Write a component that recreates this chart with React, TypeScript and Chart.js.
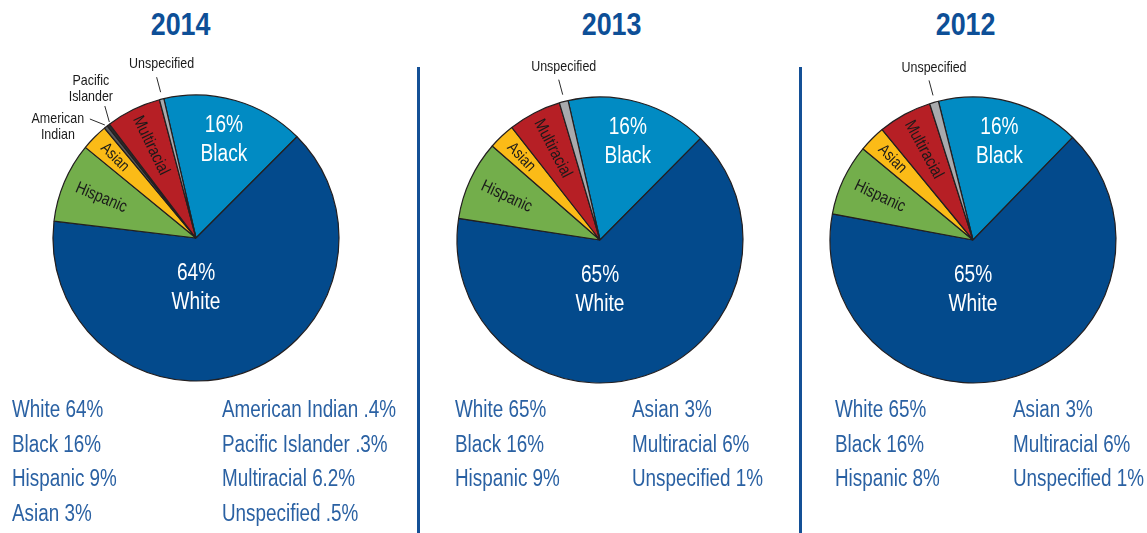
import React, { useEffect, useRef } from "react";
import { Chart, registerables } from "chart.js";

Chart.register(...registerables);

// ---------- data ----------
const years = ["2014", "2013", "2012"];

const categories2014 = ["Black", "White", "Hispanic", "Asian", "American Indian", "Pacific Islander", "Multiracial", "Unspecified"];
const values2014 = [16, 64, 9, 3, 0.4, 0.3, 6.2, 0.5];

const categories2013 = ["Black", "White", "Hispanic", "Asian", "Multiracial", "Unspecified"];
const values2013 = [16, 65, 9, 3, 6, 1];

const categories2012 = ["Black", "White", "Hispanic", "Asian", "Multiracial", "Unspecified"];
const values2012 = [16, 65, 8, 3, 6, 1];

const legend2014Left = ["White 64%", "Black 16%", "Hispanic 9%", "Asian 3%"];
const legend2014Right = ["American Indian .4%", "Pacific Islander .3%", "Multiracial 6.2%", "Unspecified .5%"];
const legend2013Left = ["White 65%", "Black 16%", "Hispanic 9%"];
const legend2013Right = ["Asian 3%", "Multiracial 6%", "Unspecified 1%"];
const legend2012Left = ["White 65%", "Black 16%", "Hispanic 8%"];
const legend2012Right = ["Asian 3%", "Multiracial 6%", "Unspecified 1%"];

// ---------- styles ----------
const FONT = '"Liberation Sans", Arimo, Arial, sans-serif';
const SQUEEZE = 0.83;
const TITLE_COLOR = "#0d4f97";
const LEGEND_COLOR = "#2a61a3";
const DIVIDER_COLOR = "#145096";

const sliceColors: Record<string, string> = {
  Black: "#018bc3",
  White: "#034a8c",
  Hispanic: "#73ae4b",
  Asian: "#fbbb17",
  "American Indian": "#58595b",
  "Pacific Islander": "#2b2b2b",
  Multiracial: "#b61f25",
  Unspecified: "#a8aaad",
};

type LabelStyle = {
  kind: "inside" | "rotated" | "outside";
  lines?: string[];
  color?: string;
  size?: number;
  frac?: number;
  angleFromTop?: number;
  line1?: [number, number];
  line2?: [number, number];
  text?: [number, number];
};

const labelStyles: Record<string, LabelStyle> = {
  Black: { kind: "inside", color: "#ffffff", size: 23, frac: 0.71 },
  White: { kind: "inside", color: "#ffffff", size: 23, frac: 0.35, angleFromTop: 180 },
  Hispanic: { kind: "rotated", color: "#1a1a1a", size: 17, frac: 0.72 },
  Asian: { kind: "rotated", color: "#1a1a1a", size: 16, frac: 0.8 },
  Multiracial: { kind: "rotated", color: "#1a1a1a", size: 17, frac: 0.72 },
  Unspecified: { kind: "outside", lines: ["Unspecified"], line1: [-1, -7], line2: [-5, -22], text: [0, -35] },
  "Pacific Islander": { kind: "outside", lines: ["Pacific", "Islander"], line1: [1, -3], line2: [-3.5, -19], text: [-17.5, -36] },
  "American Indian": { kind: "outside", lines: ["American", "Indian"], line1: [-1, -2], line2: [-16, -8], text: [-48, 0] },
};

function squeezedText(ctx: CanvasRenderingContext2D, text: string, x: number, y: number) {
  ctx.save();
  ctx.translate(x, y);
  ctx.scale(SQUEEZE, 1);
  ctx.fillText(text, 0, 0);
  ctx.restore();
}

const sliceLabelPlugin = {
  id: "sliceLabels",
  afterDatasetsDraw(chart: any) {
    const ctx: CanvasRenderingContext2D = chart.ctx;
    const meta = chart.getDatasetMeta(0);
    const labels: string[] = chart.data.labels;
    const values: number[] = chart.data.datasets[0].data;
    meta.data.forEach((arc: any, i: number) => {
      const p = arc.getProps(["x", "y", "startAngle", "endAngle", "outerRadius"], true);
      const mid = (p.startAngle + p.endAngle) / 2;
      const name = labels[i];
      const st = labelStyles[name];
      if (!st) return;
      ctx.save();
      ctx.textAlign = "center";
      ctx.textBaseline = "middle";
      if (st.kind === "inside") {
        const ang = st.angleFromTop !== undefined ? (st.angleFromTop - 90) * Math.PI / 180 : mid;
        const r = p.outerRadius * (st.frac || 0.7);
        const cx = p.x + Math.cos(ang) * r;
        const cy = p.y + Math.sin(ang) * r;
        ctx.fillStyle = st.color || "#fff";
        ctx.font = `${st.size}px ${FONT}`;
        const lh = 29;
        squeezedText(ctx, `${values[i]}%`, cx, cy - lh / 2);
        squeezedText(ctx, name, cx, cy + lh / 2);
      } else if (st.kind === "rotated") {
        const r = p.outerRadius * (st.frac || 0.7);
        const cx = p.x + Math.cos(mid) * r;
        const cy = p.y + Math.sin(mid) * r;
        ctx.translate(cx, cy);
        ctx.rotate(mid + Math.PI);
        ctx.fillStyle = st.color || "#111";
        ctx.font = `${st.size}px ${FONT}`;
        squeezedText(ctx, name, 0, 0);
      } else {
        const ex = p.x + Math.cos(mid) * p.outerRadius;
        const ey = p.y + Math.sin(mid) * p.outerRadius;
        const l1 = st.line1 || [0, 0];
        const l2 = st.line2 || [0, 0];
        const t = st.text || [0, 0];
        ctx.strokeStyle = "#2b2b2b";
        ctx.lineWidth = 1;
        ctx.beginPath();
        ctx.moveTo(ex + l1[0], ey + l1[1]);
        ctx.lineTo(ex + l2[0], ey + l2[1]);
        ctx.stroke();
        ctx.fillStyle = "#1a1a1a";
        ctx.font = `15px ${FONT}`;
        const lines = st.lines || [name];
        const lh = 16;
        lines.forEach((ln, k) => {
          squeezedText(ctx, ln, ex + t[0], ey + t[1] + (k - (lines.length - 1) / 2) * lh);
        });
      }
      ctx.restore();
    });
  },
};

type PieProps = {
  categories: string[];
  values: number[];
  rotation: number;
  left: number;
  top: number;
  width: number;
  height: number;
};

function Pie({ categories, values, rotation, left, top, width, height }: PieProps) {
  const ref = useRef<HTMLCanvasElement | null>(null);
  useEffect(() => {
    if (!ref.current) return;
    const chart = new Chart(ref.current, {
      type: "pie",
      data: {
        labels: categories,
        datasets: [
          {
            data: values,
            backgroundColor: categories.map((c) => sliceColors[c]),
            borderColor: "#231f20",
            borderWidth: 1.2,
          },
        ],
      },
      options: {
        responsive: false,
        animation: false,
        rotation,
        radius: 143,
        layout: { padding: 0 },
        plugins: { legend: { display: false }, tooltip: { enabled: false }, title: { display: false } },
      } as any,
      plugins: [sliceLabelPlugin],
    });
    return () => chart.destroy();
  }, []);
  return (
    <canvas
      ref={ref}
      width={width}
      height={height}
      style={{ position: "absolute", left, top, width, height }}
    />
  );
}

function Title({ text, cx }: { text: string; cx: number }) {
  return (
    <div
      style={{
        position: "absolute",
        left: cx - 60,
        width: 120,
        top: 4,
        height: 40,
        lineHeight: "40px",
        textAlign: "center",
        fontFamily: FONT,
        fontWeight: "bold",
        fontSize: 32,
        color: TITLE_COLOR,
      }}
    >
      <span style={{ display: "inline-block", transform: "scaleX(0.84)", transformOrigin: "center" }}>{text}</span>
    </div>
  );
}

function LegendColumn({ items, left }: { items: string[]; left: number }) {
  return (
    <div style={{ position: "absolute", left, top: 392, fontFamily: FONT, fontSize: 23, color: LEGEND_COLOR }}>
      {items.map((t) => (
        <div key={t} style={{ height: 34.5, lineHeight: "34.5px", whiteSpace: "nowrap" }}>
          <span style={{ display: "inline-block", transform: "scaleX(0.82)", transformOrigin: "left center" }}>{t}</span>
        </div>
      ))}
    </div>
  );
}

function Divider({ left }: { left: number }) {
  return <div style={{ position: "absolute", left, top: 67, width: 3, height: 466, background: DIVIDER_COLOR }} />;
}

export default function App() {
  return (
    <div style={{ position: "absolute", left: 0, top: 0, width: 1147, height: 533, background: "#ffffff", overflow: "hidden" }}>
      <Title text={years[0]} cx={181} />
      <Title text={years[1]} cx={612} />
      <Title text={years[2]} cx={966} />
      <Pie categories={categories2014} values={values2014} rotation={-13} left={0} top={50} width={392} height={376} />
      <Pie categories={categories2013} values={values2013} rotation={-12.9} left={421} top={50} width={358} height={380} />
      <Pie categories={categories2012} values={values2012} rotation={-14} left={803} top={50} width={340} height={380} />
      <Divider left={417} />
      <Divider left={799} />
      <LegendColumn items={legend2014Left} left={12} />
      <LegendColumn items={legend2014Right} left={222} />
      <LegendColumn items={legend2013Left} left={455} />
      <LegendColumn items={legend2013Right} left={632} />
      <LegendColumn items={legend2012Left} left={835} />
      <LegendColumn items={legend2012Right} left={1013} />
    </div>
  );
}
